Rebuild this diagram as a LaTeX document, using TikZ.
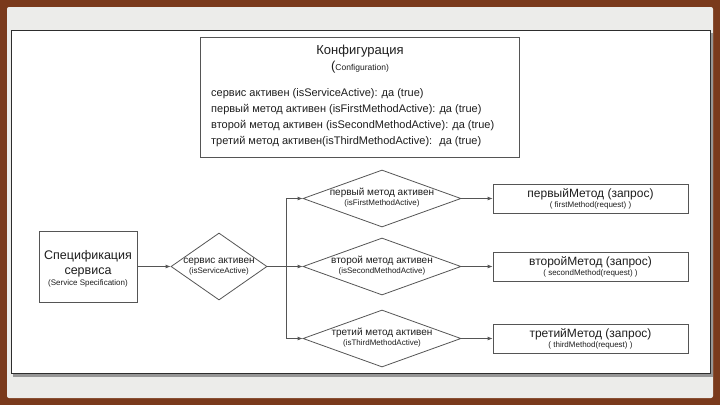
\documentclass[tikz,border=0pt]{standalone}
\usepackage{fontspec}
\setmainfont{Liberation Sans}
\usetikzlibrary{shapes.geometric,arrows.meta}
\definecolor{brownbg}{RGB}{122,58,28}
\definecolor{panelgray}{RGB}{236,236,234}
\definecolor{shadowgray}{RGB}{150,150,150}
\definecolor{framecol}{RGB}{45,45,45}
\definecolor{linecol}{RGB}{85,85,85}
\definecolor{txtcol}{RGB}{30,30,30}
\newcommand{\dtext}[2]{\raisebox{-1.5pt}{\makebox[0pt]{\fontsize{10}{10.5}\selectfont\begin{tabular}{@{}c@{}}#1\\[-1.2pt]{\fontsize{8}{9}\selectfont #2}\end{tabular}}}}
\newcommand{\mtext}[2]{{\fontsize{12}{13}\selectfont #1}\\[-2pt]{\fontsize{8}{9}\selectfont #2}}
\tikzset{
  box/.style={draw=linecol, line width=0.8pt, fill=white, inner sep=0pt, text=txtcol, align=center},
  dia/.style={draw=linecol, line width=0.8pt, fill=white, diamond, shape aspect=2, inner sep=0pt, text=txtcol},
  txt/.style={inner sep=0pt, text=txtcol},
  conn/.style={draw=linecol, line width=0.8pt},
  arr/.style={conn, -{Latex[length=5pt,width=4pt]}}
}
\begin{document}
\begin{tikzpicture}[x=1pt,y=-1pt]
\fill[brownbg] (0,0) rectangle (720,405);
\useasboundingbox (0,0) rectangle (720,405);
\fill[panelgray, rounded corners=2pt] (7,7) rectangle (713,398);
\fill[shadowgray] (13,33) rectangle (712.5,376.5);
\draw[framecol, line width=1pt, fill=white] (11,30) rectangle (710,373);

% configuration box
\node[box, minimum width=319pt, minimum height=120pt] (cfg) at (359.5,97) {};
\node[txt, font=\fontsize{13}{15}\selectfont] (cfgtitle) at (360,51) {Конфигурация};
\node[txt] (cfgsub) at (360,67) {{\fontsize{13}{15}\selectfont(}{\fontsize{8.5}{10}\selectfont Configuration)}};
\node[txt, anchor=west, align=left, font=\fontsize{11}{16}\selectfont] (cfglines) at (211,118) {сервис активен (isServiceActive): да (true)\\первый метод активен (isFirstMethodActive): да (true)\\второй метод активен (isSecondMethodActive): да (true)\\третий метод активен(isThirdMethodActive): \ да (true)};

% specification
\node[box, minimum width=98pt, minimum height=71pt, font=\fontsize{12.5}{15}\selectfont] (spec) at (88,266.5) {};
\node[txt, align=center, font=\fontsize{12.5}{15}\selectfont] (spectext) at (88,268.5) {Спецификация\\сервиса\\[-4pt]{\fontsize{8}{9}\selectfont(Service Specification)}};

% diamonds
\node[dia, minimum width=96pt, minimum height=67pt] (d0) at (219,266.5) {\dtext{сервис активен}{(isServiceActive)}};
\node[dia, minimum width=158pt, minimum height=57pt] (d1) at (382,198.5) {\dtext{первый метод активен}{(isFirstMethodActive)}};
\node[dia, minimum width=158pt, minimum height=57pt] (d2) at (382,266.5) {\dtext{второй метод активен}{(isSecondMethodActive)}};
\node[dia, minimum width=158pt, minimum height=57pt] (d3) at (382,338.5) {\dtext{третий метод активен}{(isThirdMethodActive)}};

% methods
\node[box, minimum width=195pt, minimum height=29pt] (m1) at (590.5,198.5) {\mtext{первыйМетод (запрос)}{( firstMethod(request) )}};
\node[box, minimum width=195pt, minimum height=29pt] (m2) at (590.5,266.5) {\mtext{второйМетод (запрос)}{( secondMethod(request) )}};
\node[box, minimum width=195pt, minimum height=29pt] (m3) at (590.5,338.5) {\mtext{третийМетод (запрос)}{( thirdMethod(request) )}};

\coordinate (jn) at (286,266.5);
\draw[arr] (spec.east) -- (d0.west);
\draw[conn] (d0.east) -- (jn);
\draw[arr] (jn) -- (d2.west);
\draw[arr] (jn) |- (d1.west);
\draw[arr] (jn) |- (d3.west);
\draw[arr] (d1.east) -- (m1.west);
\draw[arr] (d2.east) -- (m2.west);
\draw[arr] (d3.east) -- (m3.west);
\end{tikzpicture}
\end{document}
